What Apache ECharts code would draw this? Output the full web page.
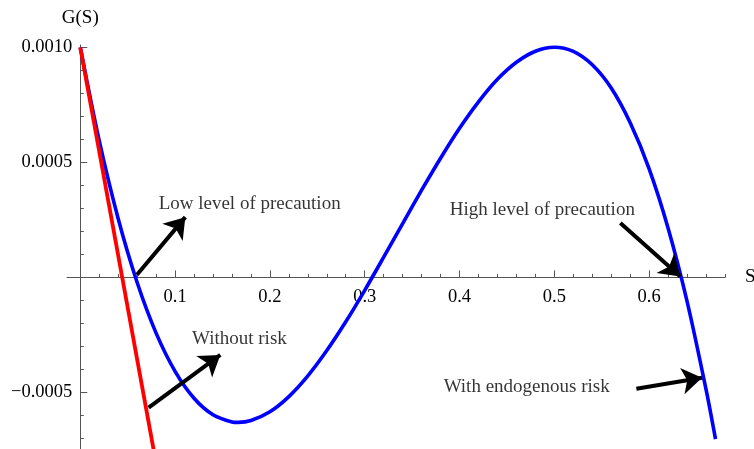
<!DOCTYPE html>
<html>
<head>
<meta charset="utf-8">
<script src="https://cdn.jsdelivr.net/npm/echarts@6/dist/echarts.min.js"></script>
<style>
html,body{margin:0;padding:0;background:#fff;}
#chart{width:754px;height:449px;}
</style>
</head>
<body>
<div id="chart"></div>
<script>
// ---- data ----
var blueS = [0, 0.02, 0.04, 0.06, 0.08, 0.10, 0.12, 0.14, 0.16, 0.1667, 0.18, 0.20, 0.22, 0.24, 0.26, 0.28, 0.30, 0.32, 0.34, 0.36, 0.38, 0.40, 0.42, 0.44, 0.46, 0.48, 0.50, 0.52, 0.54, 0.56, 0.58, 0.60, 0.62, 0.64, 0.66, 0.67];
var blueG = [0.001, 0.000594, 0.000255, -0.000022, -0.000242, -0.000408, -0.000525, -0.000597, -0.000628, -0.00063, -0.000622, -0.000584, -0.000518, -0.000428, -0.000318, -0.000193, -0.000056, 0.000088, 0.000234, 0.000379, 0.000518, 0.000648, 0.000763, 0.000861, 0.000935, 0.000983, 0.001, 0.000982, 0.000924, 0.000823, 0.000672, 0.000472, 0.000214, -0.000104, -0.000487, -0.000703];
var redS = [0, 0.0774];
var redG = [0.001, -0.00075];

var xMajorTicks = [0.1, 0.2, 0.3, 0.4, 0.5, 0.6];
var xMajorLabels = ['0.1', '0.2', '0.3', '0.4', '0.5', '0.6'];
var xMinorTicks = [0.02, 0.04, 0.06, 0.08, 0.12, 0.14, 0.16, 0.18, 0.22, 0.24, 0.26, 0.28, 0.32, 0.34, 0.36, 0.38, 0.42, 0.44, 0.46, 0.48, 0.52, 0.54, 0.56, 0.58, 0.62, 0.64, 0.66, 0.68];
var yMajorTicks = [-0.0005, 0.0005, 0.001];
var yMajorLabels = ['\u22120.0005', '0.0005', '0.0010'];
var yMinorTicks = [-0.0007, -0.0006, -0.0004, -0.0003, -0.0002, -0.0001, 0.0001, 0.0002, 0.0003, 0.0004, 0.0006, 0.0007, 0.0008, 0.0009];

var annotTexts = ['Low level of precaution', 'High level of precaution', 'Without risk', 'With endogenous risk'];
var annotTextPos = [[0.0826, 0.00032], [0.3896, 0.000294], [0.1178, -0.000268], [0.3832, -0.000478]];
var arrowFrom = [[0.0598, 0.0000117], [0.5696, 0.000236], [0.0721, -0.000566], [0.5865, -0.000484]];
var arrowTo = [[0.1108, 0.000262], [0.6329, 0.0000043], [0.1477, -0.000337], [0.6558, -0.000436]];

// ---- build ----
var FONT = 'Liberation Serif';
function pair(xs, ys) { return xs.map(function (x, i) { return [x, ys[i]]; }); }
function lookup(vals, labels, v) {
  for (var i = 0; i < vals.length; i++) { if (Math.abs(vals[i] - v) < 1e-9) return labels[i]; }
  return '';
}
var XMIN = -0.014, XMAX = 0.68, YMIN = -0.00075, YMAX = 0.00101;
var GRID = { left: 67, right: 29, top: 45, height: 405 };
var gridW = 754 - GRID.left - GRID.right;
// place the axes where the other axis is zero (axes cross at the origin)
var xAxisOffset = -(GRID.height * (0 - YMIN) / (YMAX - YMIN));
var yAxisOffset = -(gridW * (0 - XMIN) / (XMAX - XMIN));
var axisColor = '#555';

var chart = echarts.init(document.getElementById('chart'), null, { renderer: 'canvas' });
var option = {
  animation: false,
  backgroundColor: '#fff',
  grid: { left: GRID.left, right: GRID.right, top: GRID.top, height: GRID.height, containLabel: false, outerBoundsMode: 'none' },
  xAxis: [{
    type: 'value', min: XMIN, max: XMAX, position: 'bottom', offset: xAxisOffset,
    name: 'S', nameLocation: 'end', nameGap: 20,
    nameTextStyle: { fontFamily: FONT, fontSize: 19, color: '#000', verticalAlign: 'middle' },
    axisLine: { show: true, onZero: false, lineStyle: { color: axisColor, width: 1 } },
    axisTick: { show: true, inside: true, length: 7, customValues: xMajorTicks, lineStyle: { color: axisColor, width: 1 } },
    axisLabel: { show: true, customValues: xMajorTicks, margin: 10, fontFamily: FONT, fontSize: 18.5, color: '#000',
      formatter: function (v) { return lookup(xMajorTicks, xMajorLabels, v); } },
    splitLine: { show: false }
  }, {
    type: 'value', min: XMIN, max: XMAX, position: 'bottom', offset: xAxisOffset,
    axisLine: { show: false, onZero: false },
    axisTick: { show: true, inside: true, length: 3.5, customValues: xMinorTicks, lineStyle: { color: axisColor, width: 1 } },
    axisLabel: { show: false },
    splitLine: { show: false }
  }],
  yAxis: [{
    type: 'value', min: YMIN, max: YMAX, position: 'left', offset: yAxisOffset,
    name: 'G(S)', nameLocation: 'end', nameGap: 17,
    nameTextStyle: { fontFamily: FONT, fontSize: 19, color: '#000' },
    axisLine: { show: true, onZero: false, lineStyle: { color: axisColor, width: 1 } },
    axisTick: { show: true, inside: true, length: 7, customValues: yMajorTicks, lineStyle: { color: axisColor, width: 1 } },
    axisLabel: { show: true, customValues: yMajorTicks, margin: 8, fontFamily: FONT, fontSize: 18.5, color: '#000',
      formatter: function (v) { return lookup(yMajorTicks, yMajorLabels, v); } },
    splitLine: { show: false }
  }, {
    type: 'value', min: YMIN, max: YMAX, position: 'left', offset: yAxisOffset,
    axisLine: { show: false, onZero: false },
    axisTick: { show: true, inside: true, length: 3.5, customValues: yMinorTicks, lineStyle: { color: axisColor, width: 1 } },
    axisLabel: { show: false },
    splitLine: { show: false }
  }],
  series: [{
    name: 'With endogenous risk', type: 'line', data: pair(blueS, blueG),
    smooth: 0.3, showSymbol: false, symbol: 'none', clip: true,
    lineStyle: { color: '#0000ff', width: 3.6 }, silent: true
  }, {
    name: 'Without risk', type: 'line', data: pair(redS, redG),
    showSymbol: false, symbol: 'none', clip: true,
    lineStyle: { color: '#ff0000', width: 3.8 }, silent: true
  }, {
    name: 'arrows', type: 'line', data: [], silent: true,
    markLine: {
      silent: true, animation: false,
      symbol: ['none', 'arrow'], symbolSize: 20,
      label: { show: false },
      itemStyle: { color: '#000' },
      lineStyle: { color: '#000', width: 4, type: 'solid', opacity: 1 },
      emphasis: { disabled: true },
      data: arrowFrom.map(function (f, i) { return [{ coord: f }, { coord: arrowTo[i] }]; })
    }
  }, {
    name: 'texts', type: 'scatter', silent: true,
    symbolSize: 0.1, itemStyle: { color: 'rgba(0,0,0,0)' },
    data: annotTexts.map(function (t, i) { return { name: t, value: annotTextPos[i] }; }),
    label: { show: true, position: 'right', distance: 0, formatter: '{b}',
      fontFamily: FONT, fontSize: 19, color: '#000' }
  }]
};
chart.setOption(option);
</script>
</body>
</html>
